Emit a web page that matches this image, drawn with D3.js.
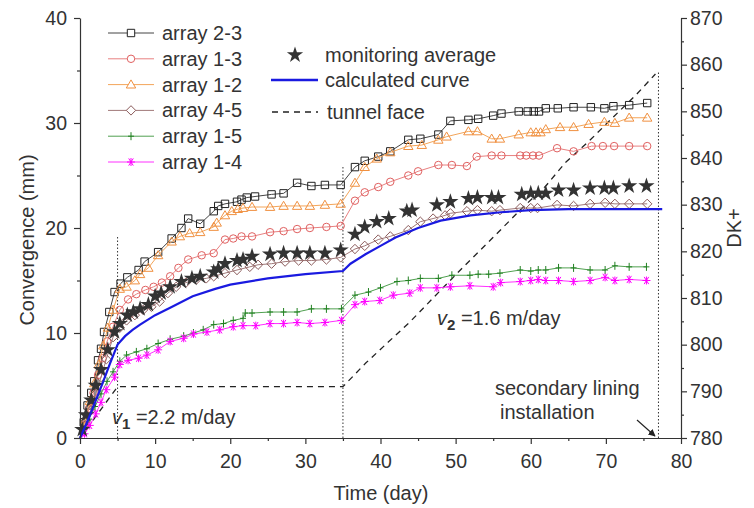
<!DOCTYPE html>
<html><head><meta charset="utf-8">
<script src="https://cdn.jsdelivr.net/npm/d3@7"></script>
<style>
body{margin:0;background:#fff;}
text{font-family:"Liberation Sans",Arial,sans-serif;fill:#333;}
</style></head>
<body><svg id="c" width="754" height="508"></svg>
<script>
// ---------------- data ----------------
const xTicks = [0,10,20,30,40,50,60,70,80];
const yTicks = [0,10,20,30,40];
const dkTicks = [780,790,800,810,820,830,840,850,860,870];

const arr23 = [[0,0],[0.5,1.5],[1.0,3.1],[1.5,4.3],[1.9,5.4],[2.4,7.4],[2.8,8.5],[3.2,10.1],[3.9,12.0],[4.6,13.9],[5.4,14.7],[6.3,15.3],[7.8,16.0],[8.6,16.8],[10.4,17.7],[12.2,19.0],[13.5,20.0],[14.4,20.9],[16.0,20.4],[17.8,21.6],[18.4,22.1],[19.3,22.3],[20.9,22.5],[21.5,22.7],[22.2,22.9],[23.3,23.0],[25.5,23.2],[27.1,23.3],[28.9,24.3],[30.8,24.0],[32.6,24.1],[34.7,24.1],[36.6,25.8],[37.9,26.4],[39.7,26.8],[41.3,27.3],[43.7,28.4],[45.3,28.5],[47.7,28.9],[49.3,30.2],[51.7,30.3],[53.0,30.4],[55.0,30.7],[56.1,30.9],[58.4,31.1],[59.6,31.1],[60.4,31.1],[61.1,31.1],[62.0,31.4],[63.6,31.4],[65.7,31.5],[68.0,31.5],[69.8,31.4],[71.0,31.6],[73.1,31.7],[75.5,31.9]];
const arr13 = [[0,0],[0.6,1.3],[1.2,2.8],[1.8,4.3],[2.4,6.0],[3.0,7.6],[3.6,9.2],[4.4,10.6],[5.3,12.2],[6.4,13.2],[7.5,13.7],[8.7,14.1],[9.8,14.4],[10.9,14.8],[12.0,15.4],[13.1,16.2],[14.4,17.0],[16.2,17.4],[17.8,17.6],[19.3,18.9],[20.4,19.0],[21.5,19.2],[22.9,19.2],[25.3,19.6],[27.1,19.7],[28.9,19.9],[30.6,20.0],[32.8,20.1],[34.7,20.2],[36.6,22.6],[37.9,23.4],[39.7,23.9],[41.3,24.4],[43.7,25.0],[45.0,25.4],[47.7,26.0],[49.5,26.0],[51.5,25.9],[52.8,26.8],[54.8,26.9],[56.1,26.9],[58.6,26.9],[59.4,26.9],[60.3,26.9],[61.1,26.9],[63.5,27.6],[65.7,27.3],[68.1,27.8],[69.6,27.8],[71.1,27.8],[73.1,27.8],[75.5,27.8]];
const arr12 = [[0,0],[0.7,1.8],[1.3,3.5],[1.9,5.2],[2.5,7.0],[3.1,8.8],[3.7,10.5],[4.4,12.2],[5.3,14.2],[6.2,14.4],[7.3,15.0],[8.0,15.6],[9.1,16.2],[10.4,17.4],[12.2,18.7],[13.3,19.2],[14.6,19.5],[16.0,19.6],[17.8,20.1],[18.2,20.5],[19.3,21.2],[20.2,21.6],[21.0,21.8],[21.7,21.9],[22.9,22.0],[25.3,22.0],[27.1,22.1],[28.9,22.1],[30.6,22.1],[32.6,22.2],[34.7,22.3],[36.6,24.3],[37.9,25.8],[39.5,26.6],[41.3,27.2],[43.7,27.8],[45.5,27.9],[47.7,28.4],[48.8,28.7],[51.7,29.2],[52.9,29.2],[54.8,28.5],[55.9,28.5],[58.4,28.9],[60.0,29.1],[60.7,29.1],[61.3,29.1],[62.0,29.4],[63.9,29.6],[65.7,29.6],[67.7,29.9],[69.8,30.1],[71.2,30.0],[73.1,30.5],[75.5,30.5]];
const arr45 = [[0,0],[0.7,1.2],[1.4,2.6],[2.1,4.2],[2.8,5.8],[3.5,7.5],[4.4,9.6],[5.3,10.5],[6.2,11.2],[7.3,11.7],[8.4,12.2],[9.5,12.5],[10.6,13.0],[11.7,13.8],[12.8,14.4],[14.1,14.8],[15.5,15.1],[16.8,15.2],[17.8,15.4],[19.3,15.7],[20.9,16.0],[22.6,16.3],[23.7,16.5],[25.5,16.6],[27.3,16.8],[29.1,16.9],[30.8,16.9],[32.8,17.0],[34.7,17.2],[36.6,18.0],[37.9,18.3],[39.7,18.9],[41.3,19.2],[43.7,19.8],[45.3,20.6],[47.0,20.9],[48.6,21.2],[49.3,21.4],[51.5,21.6],[52.9,21.7],[54.8,21.6],[55.9,21.7],[58.6,21.9],[60.0,21.9],[60.9,21.9],[63.5,22.2],[65.7,22.1],[67.9,22.3],[69.9,22.4],[71.2,22.3],[73.1,22.3],[75.5,22.3]];
const arr15 = [[0,0],[0.6,0.8],[1.2,1.8],[2.0,3.0],[2.8,4.2],[3.6,5.4],[4.4,6.3],[5.3,7.3],[6.2,7.9],[7.5,8.2],[8.9,8.5],[10.4,9.0],[12.0,9.4],[13.8,9.7],[15.1,10.0],[16.4,10.3],[17.8,10.8],[19.1,10.9],[20.4,11.2],[21.7,11.4],[22.0,11.9],[22.9,11.9],[25.3,12.0],[27.1,12.0],[28.9,12.0],[30.8,12.3],[32.8,12.3],[34.8,12.3],[36.6,13.6],[38.4,13.9],[40.0,14.3],[42.2,14.9],[43.7,15.0],[45.3,15.2],[47.7,15.2],[49.5,15.5],[51.9,15.5],[53.0,15.6],[54.4,15.6],[55.9,15.7],[58.6,16.0],[60.0,15.9],[61.0,16.0],[62.0,16.0],[63.7,16.2],[65.7,16.2],[67.9,16.0],[69.9,16.0],[71.2,16.4],[73.1,16.3],[75.4,16.3]];
const arr14 = [[0,0],[0.6,0.4],[1.3,1.2],[2.1,2.3],[2.8,3.4],[3.5,4.6],[4.6,5.8],[5.3,7.0],[6.4,7.4],[7.8,7.6],[8.9,7.9],[10.4,8.4],[12.0,9.2],[13.8,9.5],[15.1,9.9],[16.9,10.1],[18.6,10.3],[20.4,10.6],[21.7,10.7],[23.4,10.7],[25.3,10.9],[27.1,10.9],[28.9,11.0],[30.6,10.9],[32.6,11.0],[34.8,11.2],[36.6,12.7],[37.9,13.0],[39.9,13.1],[41.7,13.6],[43.9,13.8],[45.3,14.3],[47.5,14.3],[49.3,14.4],[51.9,14.5],[55.0,14.4],[56.0,14.8],[58.6,14.9],[60.0,15.0],[61.0,15.1],[62.0,15.0],[63.7,15.0],[65.7,14.9],[67.9,15.0],[69.9,15.3],[71.2,15.0],[73.1,15.1],[75.4,15.0]];
const avg = [[0.3,0.8],[0.8,2.2],[1.5,3.6],[2.1,5.0],[2.8,6.5],[3.7,8.4],[4.6,10.1],[5.3,10.9],[6.3,11.7],[7.1,12.0],[8.0,12.3],[9.1,12.7],[10.0,13.5],[10.8,13.8],[12.0,14.4],[13.5,14.9],[14.9,15.2],[16.0,15.4],[17.8,15.8],[18.4,16.1],[19.3,16.6],[20.9,16.9],[21.7,17.0],[22.9,17.3],[25.3,17.5],[27.1,17.6],[28.9,17.6],[30.6,17.6],[32.6,17.6],[34.7,17.9],[36.6,19.4],[37.9,20.1],[39.5,20.6],[41.1,20.9],[43.5,21.6],[44.2,21.7],[47.5,22.2],[49.3,22.5],[51.7,22.8],[52.9,22.9],[54.8,22.9],[55.7,22.9],[58.8,23.2],[60.0,23.3],[61.0,23.3],[62.0,23.3],[63.7,23.6],[65.7,23.6],[67.9,23.8],[69.8,23.8],[71.0,23.8],[73.1,24.0],[75.4,24.0]];
const calc = [[0,0],[1,1.6],[2,3.4],[3,5.2],[4,7.1],[5,8.9],[6,9.7],[7,10.3],[8,10.8],[10,11.7],[12,12.4],[15,13.5],[18,14.2],[20,14.6],[25,15.2],[30,15.6],[35,15.9],[36,16.6],[38,17.5],[40,18.3],[42,19.1],[45,20.0],[48,20.7],[52,21.2],[56,21.5],[60,21.7],[65,21.8],[70,21.8],[77.5,21.8]];
const tunnelFace = [[0,780],[5,791],[35,791],[38,796],[41,800.5],[44,805],[47,810],[51,816.6],[55,823],[59,829.5],[62,834],[64.6,839],[68,844],[71,848.8],[74,853.5],[76.6,858]];
const eventDays = [5,35,77];
const eventTops = [19.3,26.0,35.0];

const seriesNames = ["array 2-3","array 1-3","array 1-2","array 4-5","array 1-5","array 1-4"];
const seriesData = [arr23, arr13, arr12, arr45, arr15, arr14];

// ---------------- styles ----------------
const seriesLine = ["#444","#e88080","#f3a55a","#a07878","#50a050","#ff30ff"];
const seriesMark = ["#222","#e06060","#f09040","#8a5a5a","#208020","#ff00ff"];
const seriesSym = ["square","circle","triangle","diamond","plus","asterisk"];
const FS = 20, TFS = 19.5;

const svg = d3.select("#c");
const x = d3.scaleLinear().domain([0,80]).range([80,681]);
const y = d3.scaleLinear().domain([0,40]).range([438,18]);
const yR = d3.scaleLinear().domain([780,870]).range([438,18]);

function symPath(kind){
  switch(kind){
    case "square": return "M-3.7,-3.7H3.7V3.7H-3.7Z";
    case "circle": return d3.symbol(d3.symbolCircle, 44)();
    case "triangle": return "M0,-4.7L4.7,3.4H-4.7Z";
    case "diamond": return "M0,-4.7L4.7,0L0,4.7L-4.7,0Z";
    case "plus": return "M-3,0H3M0,-4V4";
    case "asterisk": return "M-4,0H4M-2.3,-3.6L2.3,3.6M-2.3,3.6L2.3,-3.6M0,-4V4";
  }
}

// ---------------- event dotted lines ----------------
svg.append("g").selectAll("line").data(eventDays).join("line")
  .attr("x1",d=>x(d)).attr("x2",d=>x(d))
  .attr("y1",y(0)).attr("y2",(d,i)=>y(eventTops[i]))
  .attr("stroke","#333").attr("stroke-width",1).attr("stroke-dasharray","1.5,2");

// ---------------- tunnel face ----------------
const lineR = d3.line().x(d=>x(d[0])).y(d=>yR(d[1]));
svg.append("path").datum(tunnelFace).attr("d",lineR)
  .attr("fill","none").attr("stroke","#222").attr("stroke-width",1.3).attr("stroke-dasharray","6,5");

// ---------------- series ----------------
const line = d3.line().x(d=>x(d[0])).y(d=>y(d[1]));
seriesData.forEach((data,i)=>{
  const g = svg.append("g");
  g.append("path").datum(data).attr("d",line).attr("fill","none")
    .attr("stroke",seriesLine[i]).attr("stroke-width",1);
  g.selectAll("path.m").data(data.slice(1)).join("path").attr("class","m")
    .attr("transform",d=>`translate(${x(d[0])},${y(d[1])})`)
    .attr("d",symPath(seriesSym[i]))
    .attr("fill","none")
    .attr("stroke",seriesMark[i]).attr("stroke-width",1);
});

// average stars
const star = d3.symbol(d3.symbolStar, 82)();
svg.append("g").selectAll("path").data(avg).join("path")
  .attr("transform",d=>`translate(${x(d[0])},${y(d[1])})`)
  .attr("d",star).attr("fill","#333");

// calculated curve
svg.append("path").datum(calc).attr("d",line).attr("fill","none")
  .attr("stroke","#1a1ae0").attr("stroke-width",2.2);

// ---------------- axes ----------------
function styleAxis(g){
  g.selectAll("path,line").attr("stroke","#333").attr("stroke-width",1.2);
  g.selectAll("text").attr("font-size",TFS).attr("fill","#333")
   .attr("font-family","Liberation Sans, Arial, sans-serif");
}
const minorX = d3.range(5,80,10), minorY = d3.range(5,40,10), minorR = d3.range(785,870,10);

svg.append("g").attr("transform","translate(0,438)")
  .call(d3.axisBottom(x).tickValues(xTicks).tickSize(6).tickSizeOuter(0).tickPadding(10))
  .call(styleAxis);
svg.append("g").attr("transform","translate(0,438)")
  .call(d3.axisBottom(x).tickValues(minorX).tickSize(3).tickFormat("")).call(styleAxis)
  .select(".domain").remove();

svg.append("g").attr("transform","translate(80,0)")
  .call(d3.axisLeft(y).tickValues(yTicks).tickSize(6).tickSizeOuter(0).tickPadding(7))
  .call(styleAxis);
svg.append("g").attr("transform","translate(80,0)")
  .call(d3.axisLeft(y).tickValues(minorY).tickSize(3).tickFormat("")).call(styleAxis)
  .select(".domain").remove();

svg.append("g").attr("transform","translate(681,0)")
  .call(d3.axisRight(yR).tickValues(dkTicks).tickSize(6).tickSizeOuter(0).tickPadding(3))
  .call(styleAxis);
svg.append("g").attr("transform","translate(681,0)")
  .call(d3.axisRight(yR).tickValues(minorR).tickSize(3).tickFormat("")).call(styleAxis)
  .select(".domain").remove();

// axis titles
svg.append("text").attr("x",381).attr("y",500).attr("text-anchor","middle")
  .attr("font-size",FS).text("Time (day)");
svg.append("text").attr("transform","translate(34,240) rotate(-90)").attr("text-anchor","middle")
  .attr("font-size",FS).text("Convergence (mm)");
svg.append("text").attr("transform","translate(741,228) rotate(-90)").attr("text-anchor","middle")
  .attr("font-size",FS).text("DK+");

// ---------------- legend ----------------
const leg = svg.append("g");
seriesNames.forEach((n,i)=>{
  const yy = 33 + i*25.8;
  leg.append("line").attr("x1",108).attr("x2",154).attr("y1",yy).attr("y2",yy)
    .attr("stroke",seriesLine[i]).attr("stroke-width",1);
  leg.append("path").attr("transform",`translate(131,${yy})`).attr("d",symPath(seriesSym[i]))
    .attr("fill","#fff").attr("stroke",seriesMark[i]).attr("stroke-width",1);
  leg.append("text").attr("x",162).attr("y",yy+7).attr("font-size",FS).text(n);
});
leg.append("path").attr("transform","translate(295,55)").attr("d",star).attr("fill","#333");
leg.append("text").attr("x",325).attr("y",62).attr("font-size",FS).text("monitoring average");
leg.append("line").attr("x1",271).attr("x2",318).attr("y1",80).attr("y2",80)
  .attr("stroke","#1a1ae0").attr("stroke-width",2.5);
leg.append("text").attr("x",325).attr("y",87).attr("font-size",FS).text("calculated curve");
leg.append("line").attr("x1",272).attr("x2",318).attr("y1",112).attr("y2",112)
  .attr("stroke","#222").attr("stroke-width",1.3).attr("stroke-dasharray","6,5");
leg.append("text").attr("x",327).attr("y",119).attr("font-size",FS).text("tunnel face");

// ---------------- annotations ----------------
function vLabel(xp,yp,sub,rest){
  const t = svg.append("text").attr("x",xp).attr("y",yp).attr("font-size",FS);
  t.append("tspan").attr("font-style","italic").text("v");
  t.append("tspan").attr("dy",5).attr("font-size",15).attr("font-weight","bold").text(sub);
  t.append("tspan").attr("dy",-5).text(" =" + rest);
}
vLabel(112,424,"1","2.2 m/day");
vLabel(437,325,"2","1.6 m/day");
svg.append("text").attr("x",495).attr("y",395).attr("font-size",FS).text("secondary lining");
svg.append("text").attr("x",500).attr("y",419).attr("font-size",FS).text("installation");
svg.append("defs").append("marker").attr("id","ah").attr("viewBox","0 0 10 10")
  .attr("refX",9).attr("refY",5).attr("markerWidth",6).attr("markerHeight",6).attr("orient","auto")
  .append("path").attr("d","M0,0L10,5L0,10Z").attr("fill","#222");
svg.append("line").attr("x1",637).attr("y1",420).attr("x2",655).attr("y2",436)
  .attr("stroke","#222").attr("stroke-width",1.2).attr("marker-end","url(#ah)");
</script></body></html>
